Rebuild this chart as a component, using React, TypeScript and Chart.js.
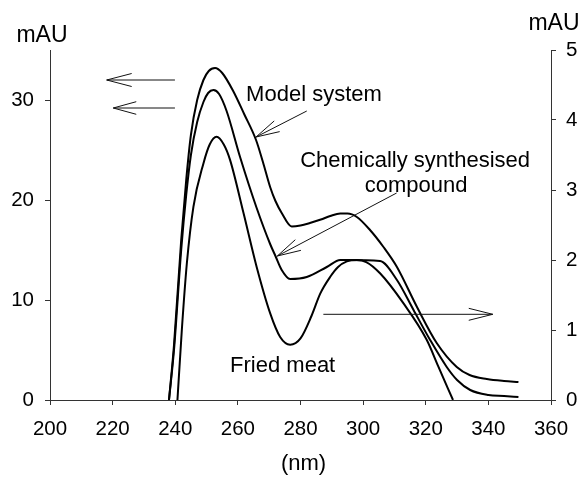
import React, { useEffect, useRef } from 'react';
import { Chart, registerables } from 'chart.js';

Chart.register(...registerables);

// Wavelength axis (nm)
const xMin = 200;
const xMax = 360;
const xStep = 20;
// Left axis (mAU) for model system and chemically synthesised compound
const leftMax = 35;
const leftStep = 10;
const leftLastTick = 30;
// Right axis (mAU) for fried meat
const rightMax = 5;
const rightStep = 1;

const modelNm = [238, 239.6, 241.9, 243.5, 245, 247, 249, 250.7, 252.7, 255, 258.5, 262, 265.8, 268, 270.3, 272, 274, 277.2, 280, 283, 286.5, 289.5, 292.7, 295, 298, 302.2, 306.5, 310.8, 317.2, 323.5, 329.9, 334, 339.5, 345, 349.6];
const modelVal = [0, 5.5, 16, 22, 26.5, 30, 32, 32.9, 33.2, 32.7, 30.9, 28.6, 26.0, 23.8, 21.3, 19.9, 18.7, 17.35, 17.45, 17.7, 18.05, 18.4, 18.65, 18.65, 18.3, 17.0, 15.3, 13.3, 9.3, 5.7, 3.3, 2.5, 2.1, 1.9, 1.8];

const chemNm = [238, 239.6, 241.9, 243.5, 245, 247, 249, 250.5, 252.2, 254, 256.4, 260.7, 266, 270.3, 272, 274, 276.7, 282, 288.4, 292.7, 294.8, 305.4, 310.8, 316.1, 321.4, 326.7, 330, 334.2, 340, 345, 349.6];
const chemVal = [0, 5, 15, 20.5, 24.5, 27.8, 29.8, 30.7, 31.0, 30.6, 28.9, 24.3, 19.2, 15.6, 14.4, 13.0, 12.1, 12.3, 13.3, 14.0, 14.0, 13.9, 12.0, 9.0, 6.0, 3.3, 2.0, 1.0, 0.5, 0.4, 0.3];

const friedNm = [240.7, 242.1, 243.7, 245.8, 249, 251, 253.2, 255.5, 257.5, 261.8, 266, 270.3, 273.5, 276.7, 280, 283.5, 286.3, 289.5, 292, 294.8, 298, 301, 305.4, 312.9, 320.3, 324, 328.7];
const friedVal = [0, 1.0, 1.95, 2.76, 3.38, 3.65, 3.76, 3.65, 3.43, 2.67, 1.9, 1.24, 0.9, 0.79, 0.88, 1.2, 1.52, 1.76, 1.9, 1.98, 2.0, 1.97, 1.81, 1.38, 0.86, 0.48, 0.0];

const seriesLabels = ['Model system', 'Chemically synthesised compound', 'Fried meat'];

// Annotation layout (data coordinates: nm, left-axis mAU)
const arrows = [
  { from: [239.9, 32.0], to: [218.1, 32.0], head: 25, half: 6.5 },
  { from: [239.9, 29.2], to: [220.2, 29.2], head: 23, half: 6.3 },
  { from: [282.0, 28.9], to: [265.8, 26.3], head: 23.5, half: 6 },
  { from: [310.7, 20.7], to: [272.6, 14.4], head: 23.5, half: 6 },
  { from: [287.3, 8.57], to: [341.4, 8.57], head: 24, half: 6 },
];
const labels = [
  { text: 'Model system', at: [284.3, 29.9] },
  { text: 'Chemically synthesised', at: [316.6, 23.3] },
  { text: 'compound', at: [316.9, 20.8] },
  { text: 'Fried meat', at: [274.3, 2.77] },
];

const FONT = "'Liberation Sans', Arial, Helvetica, sans-serif";

const zip = (xs: number[], ys: number[]) => xs.map((x, i) => ({ x, y: ys[i] }));

const annotPlugin = {
  id: 'annot',
  afterDraw(chart: any) {
    const ctx = chart.ctx as CanvasRenderingContext2D;
    const sx = chart.scales.x;
    const sy = chart.scales.y;
    const area = chart.chartArea;
    const px = (v: number) => sx.getPixelForValue(v);
    const py = (v: number) => sy.getPixelForValue(v);
    ctx.save();
    ctx.strokeStyle = '#111';
    ctx.lineWidth = 1;
    arrows.forEach((a) => {
      const x1 = px(a.from[0]);
      const y1 = py(a.from[1]);
      const x2 = px(a.to[0]);
      const y2 = py(a.to[1]);
      const dx = x2 - x1;
      const dy = y2 - y1;
      const len = Math.hypot(dx, dy);
      const ux = dx / len;
      const uy = dy / len;
      ctx.beginPath();
      ctx.moveTo(x1, y1);
      ctx.lineTo(x2, y2);
      ctx.moveTo(x2 - ux * a.head - uy * a.half, y2 - uy * a.head + ux * a.half);
      ctx.lineTo(x2, y2);
      ctx.lineTo(x2 - ux * a.head + uy * a.half, y2 - uy * a.head - ux * a.half);
      ctx.stroke();
    });
    ctx.fillStyle = '#000';
    ctx.font = `22px ${FONT}`;
    ctx.textAlign = 'center';
    ctx.textBaseline = 'alphabetic';
    labels.forEach((l) => {
      ctx.fillText(l.text, px(l.at[0]), py(l.at[1]));
    });
    ctx.font = `23px ${FONT}`;
    ctx.fillText('mAU', area.left - 8, area.top - 8.5);
    ctx.fillText('mAU', area.right + 3, area.top - 20);
    ctx.font = `22px ${FONT}`;
    ctx.fillText('(nm)', (area.left + area.right) / 2 + 3, area.bottom + 70);
    ctx.restore();
  },
};

export default function App() {
  const ref = useRef<HTMLCanvasElement | null>(null);
  useEffect(() => {
    if (!ref.current) return;
    const line = (label: string, data: any[], axis: string) => ({
      label,
      data,
      yAxisID: axis,
      borderColor: '#000',
      borderWidth: 2,
      pointRadius: 0,
      fill: false,
      cubicInterpolationMode: 'monotone' as const,
    });
    const tickFont = { family: FONT, size: 20.5 };
    const chart = new Chart(ref.current, {
      type: 'line',
      data: {
        datasets: [
          line(seriesLabels[0], zip(modelNm, modelVal), 'y'),
          line(seriesLabels[1], zip(chemNm, chemVal), 'y'),
          line(seriesLabels[2], zip(friedNm, friedVal), 'y2'),
        ],
      },
      options: {
        animation: false,
        responsive: false,
        maintainAspectRatio: false,
        layout: { padding: { top: 50, left: 0, right: 0, bottom: 0 } },
        plugins: { legend: { display: false }, tooltip: { enabled: false } },
        scales: {
          x: {
            type: 'linear',
            min: xMin,
            max: xMax,
            afterFit: (s: any) => { s.height = 78; },
            ticks: { stepSize: xStep, color: '#000', font: tickFont, padding: 12, maxRotation: 0 },
            grid: { drawOnChartArea: false, drawTicks: true, tickLength: 5, color: '#333' },
            border: { display: true, color: '#333', width: 1 },
          },
          y: {
            type: 'linear',
            position: 'left',
            min: 0,
            max: leftMax,
            afterFit: (s: any) => { s.width = 50; },
            afterBuildTicks: (s: any) => { s.ticks = s.ticks.filter((t: any) => t.value <= leftLastTick); },
            ticks: { stepSize: leftStep, color: '#000', font: tickFont, padding: 11 },
            grid: { drawOnChartArea: false, drawTicks: true, tickLength: 5, color: '#333' },
            border: { display: true, color: '#333', width: 1 },
          },
          y2: {
            type: 'linear',
            position: 'right',
            min: 0,
            max: rightMax,
            afterFit: (s: any) => { s.width = 33; },
            ticks: { stepSize: rightStep, color: '#000', font: tickFont, padding: 10 },
            grid: { drawOnChartArea: false, drawTicks: true, tickLength: 5, color: '#333' },
            border: { display: true, color: '#333', width: 1 },
          },
        },
      },
      plugins: [annotPlugin],
    });
    return () => chart.destroy();
  }, []);
  return (
    <div style={{ position: 'fixed', left: 0, top: 0, width: 584, height: 478, background: '#fff' }}>
      <canvas ref={ref} width={584} height={478} style={{ width: 584, height: 478 }} />
    </div>
  );
}
